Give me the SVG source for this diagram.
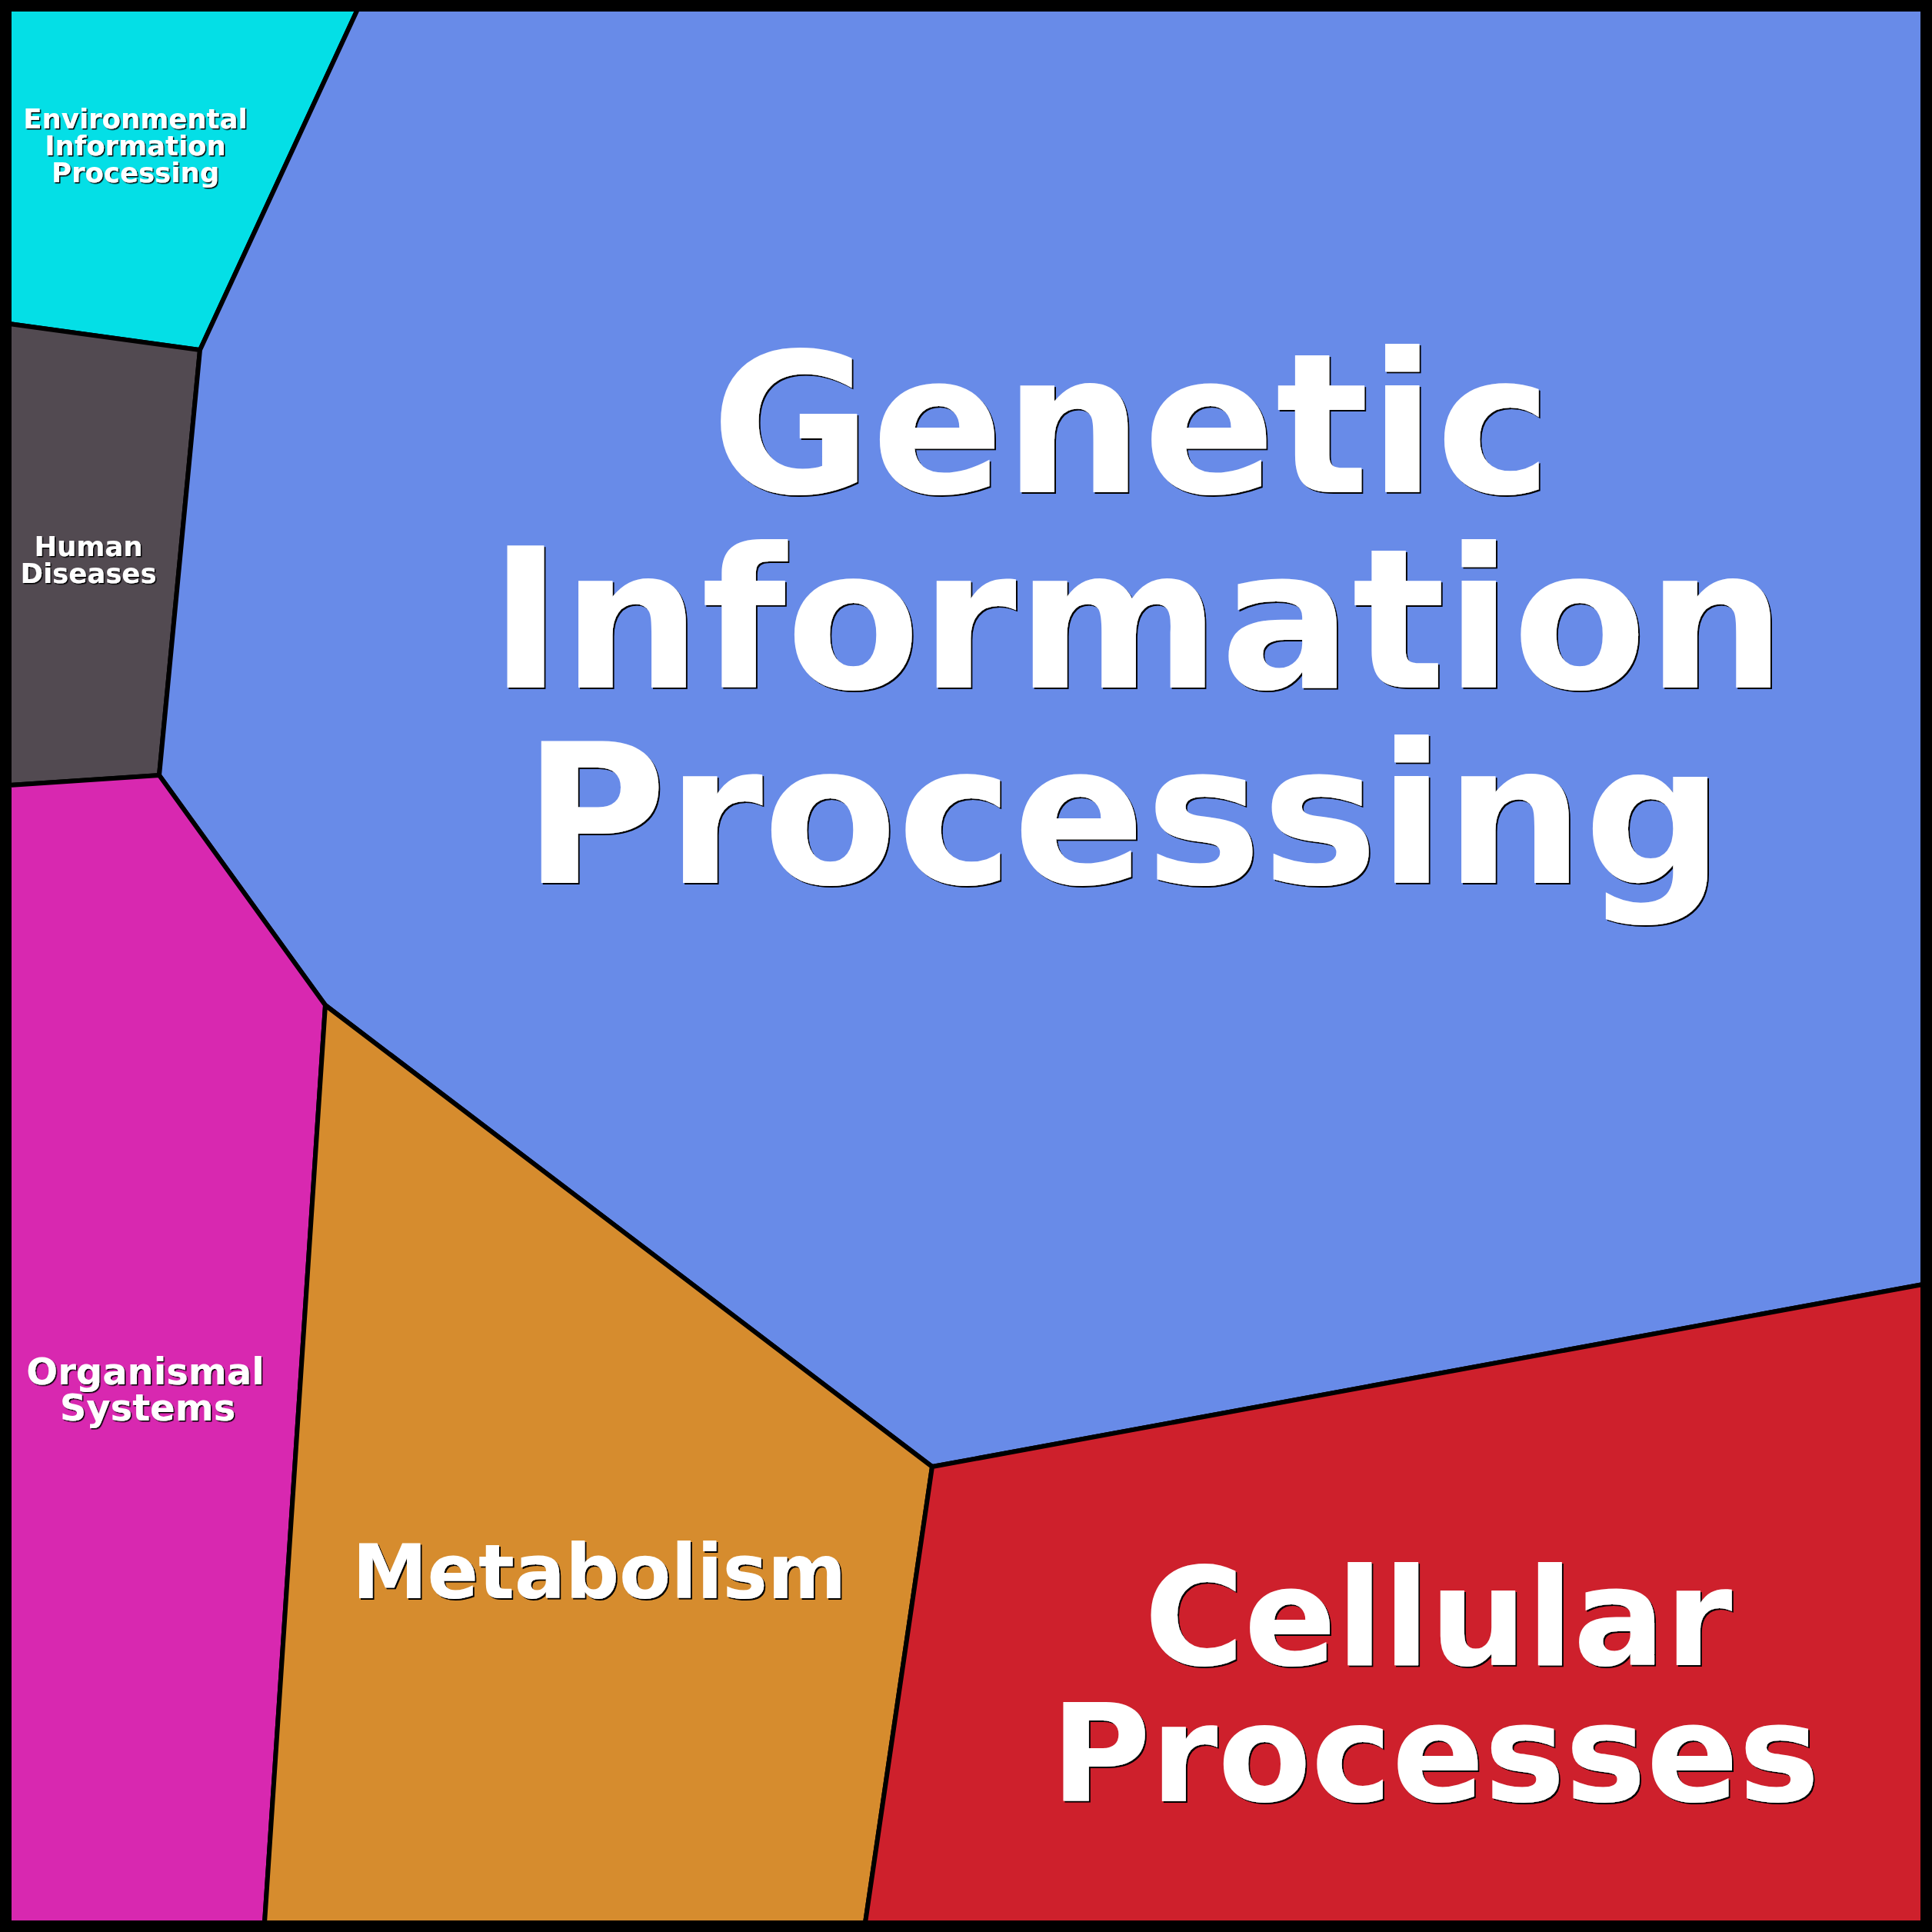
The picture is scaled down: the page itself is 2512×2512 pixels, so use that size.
<svg xmlns="http://www.w3.org/2000/svg" width="2512" height="2512" viewBox="0 0 2512 2512">
<defs>
<filter id="shadow" x="-5%" y="-5%" width="110%" height="110%">
<feDropShadow dx="2" dy="2" stdDeviation="0.4" flood-color="#000" flood-opacity="1"/>
</filter>
<filter id="shadowS" x="-5%" y="-5%" width="110%" height="110%">
<feDropShadow dx="1.5" dy="1.5" stdDeviation="0.3" flood-color="#000" flood-opacity="1"/>
</filter>
</defs>
<style>
.cell{stroke:#000;stroke-width:6;stroke-linejoin:miter}
.t{font-family:"DejaVu Sans","Liberation Sans",sans-serif;font-weight:bold;text-anchor:middle;fill:#fff}
.big{filter:url(#shadow)}
.small{filter:url(#shadowS)}
</style>
<rect x="0" y="0" width="2512" height="2512" fill="#000"/>
<g id="env">
<polygon class="cell" fill="#04DFE6" points="12,12 465,12 260,455 12,421"/>
<text class="t small" font-size="35.5" x="176" y="167">Environmental<tspan x="176" y="202">Information</tspan><tspan x="176" y="237">Processing</tspan></text>
</g>
<g id="human">
<polygon class="cell" fill="#524A51" points="12,421 260,455 207,1008 12,1021"/>
<text class="t small" font-size="35.5" x="115" y="723">Human<tspan x="115" y="758">Diseases</tspan></text>
</g>
<g id="gip">
<polygon class="cell" fill="#688BE8" points="465,12 2500,12 2500,1670 1212,1907 423,1307 207,1008 260,455"/>
<text class="t big" font-size="254" x="1471" y="640">Genetic<tspan x="1479" y="894">Information</tspan><tspan x="1461" y="1148">Processing</tspan></text>
</g>
<g id="org">
<polygon class="cell" fill="#D828B0" points="12,1021 207,1008 423,1307 344,2500 12,2500"/>
<text class="t small" font-size="48" x="189" y="1800">Organismal<tspan x="192" y="1847">Systems</tspan></text>
</g>
<g id="meta">
<polygon class="cell" fill="#D68C2E" points="423,1307 1212,1907 1125,2500 344,2500"/>
<text class="t big" font-size="98" x="779" y="2078">Metabolism</text>
</g>
<g id="cell">
<polygon class="cell" fill="#CE202C" points="1212,1907 2500,1670 2500,2500 1125,2500"/>
<text class="t big" font-size="177" x="1870" y="2165">Cellular<tspan x="1866" y="2342">Processes</tspan></text>
</g>
<g id="connectors"/>
<rect x="6" y="6" width="2500" height="2500" fill="none" stroke="#000" stroke-width="12"/>
</svg>
